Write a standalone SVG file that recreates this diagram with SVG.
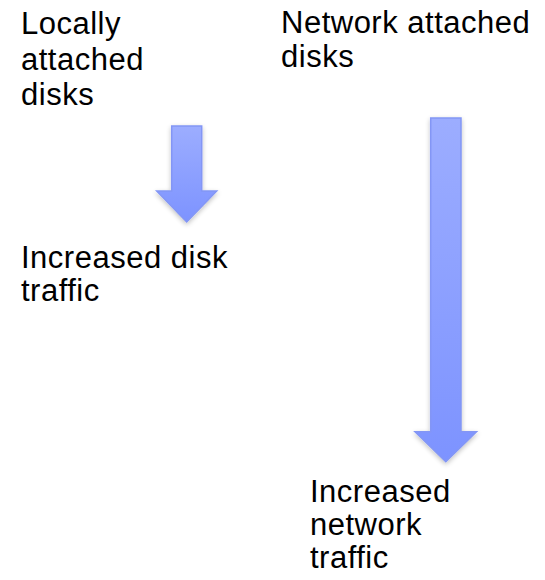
<svg xmlns="http://www.w3.org/2000/svg" width="545" height="580" viewBox="0 0 545 580">
<style>
text{font-family:"Liberation Sans",Arial,sans-serif;font-size:31px;letter-spacing:0.5px;fill:#000}
.arrow{stroke:#8396f5;stroke-width:1.5;stroke-linejoin:miter}
</style>
<defs>
<linearGradient id="g1" x1="0" y1="0" x2="0" y2="1">
<stop offset="0" stop-color="#9cadff"/>
<stop offset="1" stop-color="#7d93ff"/>
</linearGradient>
<filter id="sh" x="-30%" y="-10%" width="160%" height="130%">
<feGaussianBlur in="SourceAlpha" stdDeviation="2.5"/>
<feOffset dx="0" dy="2" result="b"/>
<feComponentTransfer><feFuncA type="linear" slope="0.25"/></feComponentTransfer>
<feMerge><feMergeNode/><feMergeNode in="SourceGraphic"/></feMerge>
</filter>
</defs>
<g id="connectors">
<path class="arrow" fill="url(#g1)" filter="url(#sh)" d="M171.7,126 H201.7 V191 H216.7 L186.7,222 L156.7,191 H171.7 Z"/>
<path class="arrow" fill="url(#g1)" filter="url(#sh)" d="M430.7,118 H461 V431.7 H476.5 L445.8,461.7 L415,431.7 H430.7 Z"/>
</g>
<g id="local-disks">
<text x="21" y="34">Locally</text>
<text x="21" y="70">attached</text>
<text x="21" y="105">disks</text>
</g>
<g id="network-disks">
<text x="281" y="33">Network attached</text>
<text x="281" y="67">disks</text>
</g>
<g id="increased-disk-traffic">
<text x="21" y="268">Increased disk</text>
<text x="21" y="301">traffic</text>
</g>
<g id="increased-network-traffic">
<text x="310" y="502">Increased</text>
<text x="310" y="535">network</text>
<text x="310" y="568">traffic</text>
</g>
</svg>
